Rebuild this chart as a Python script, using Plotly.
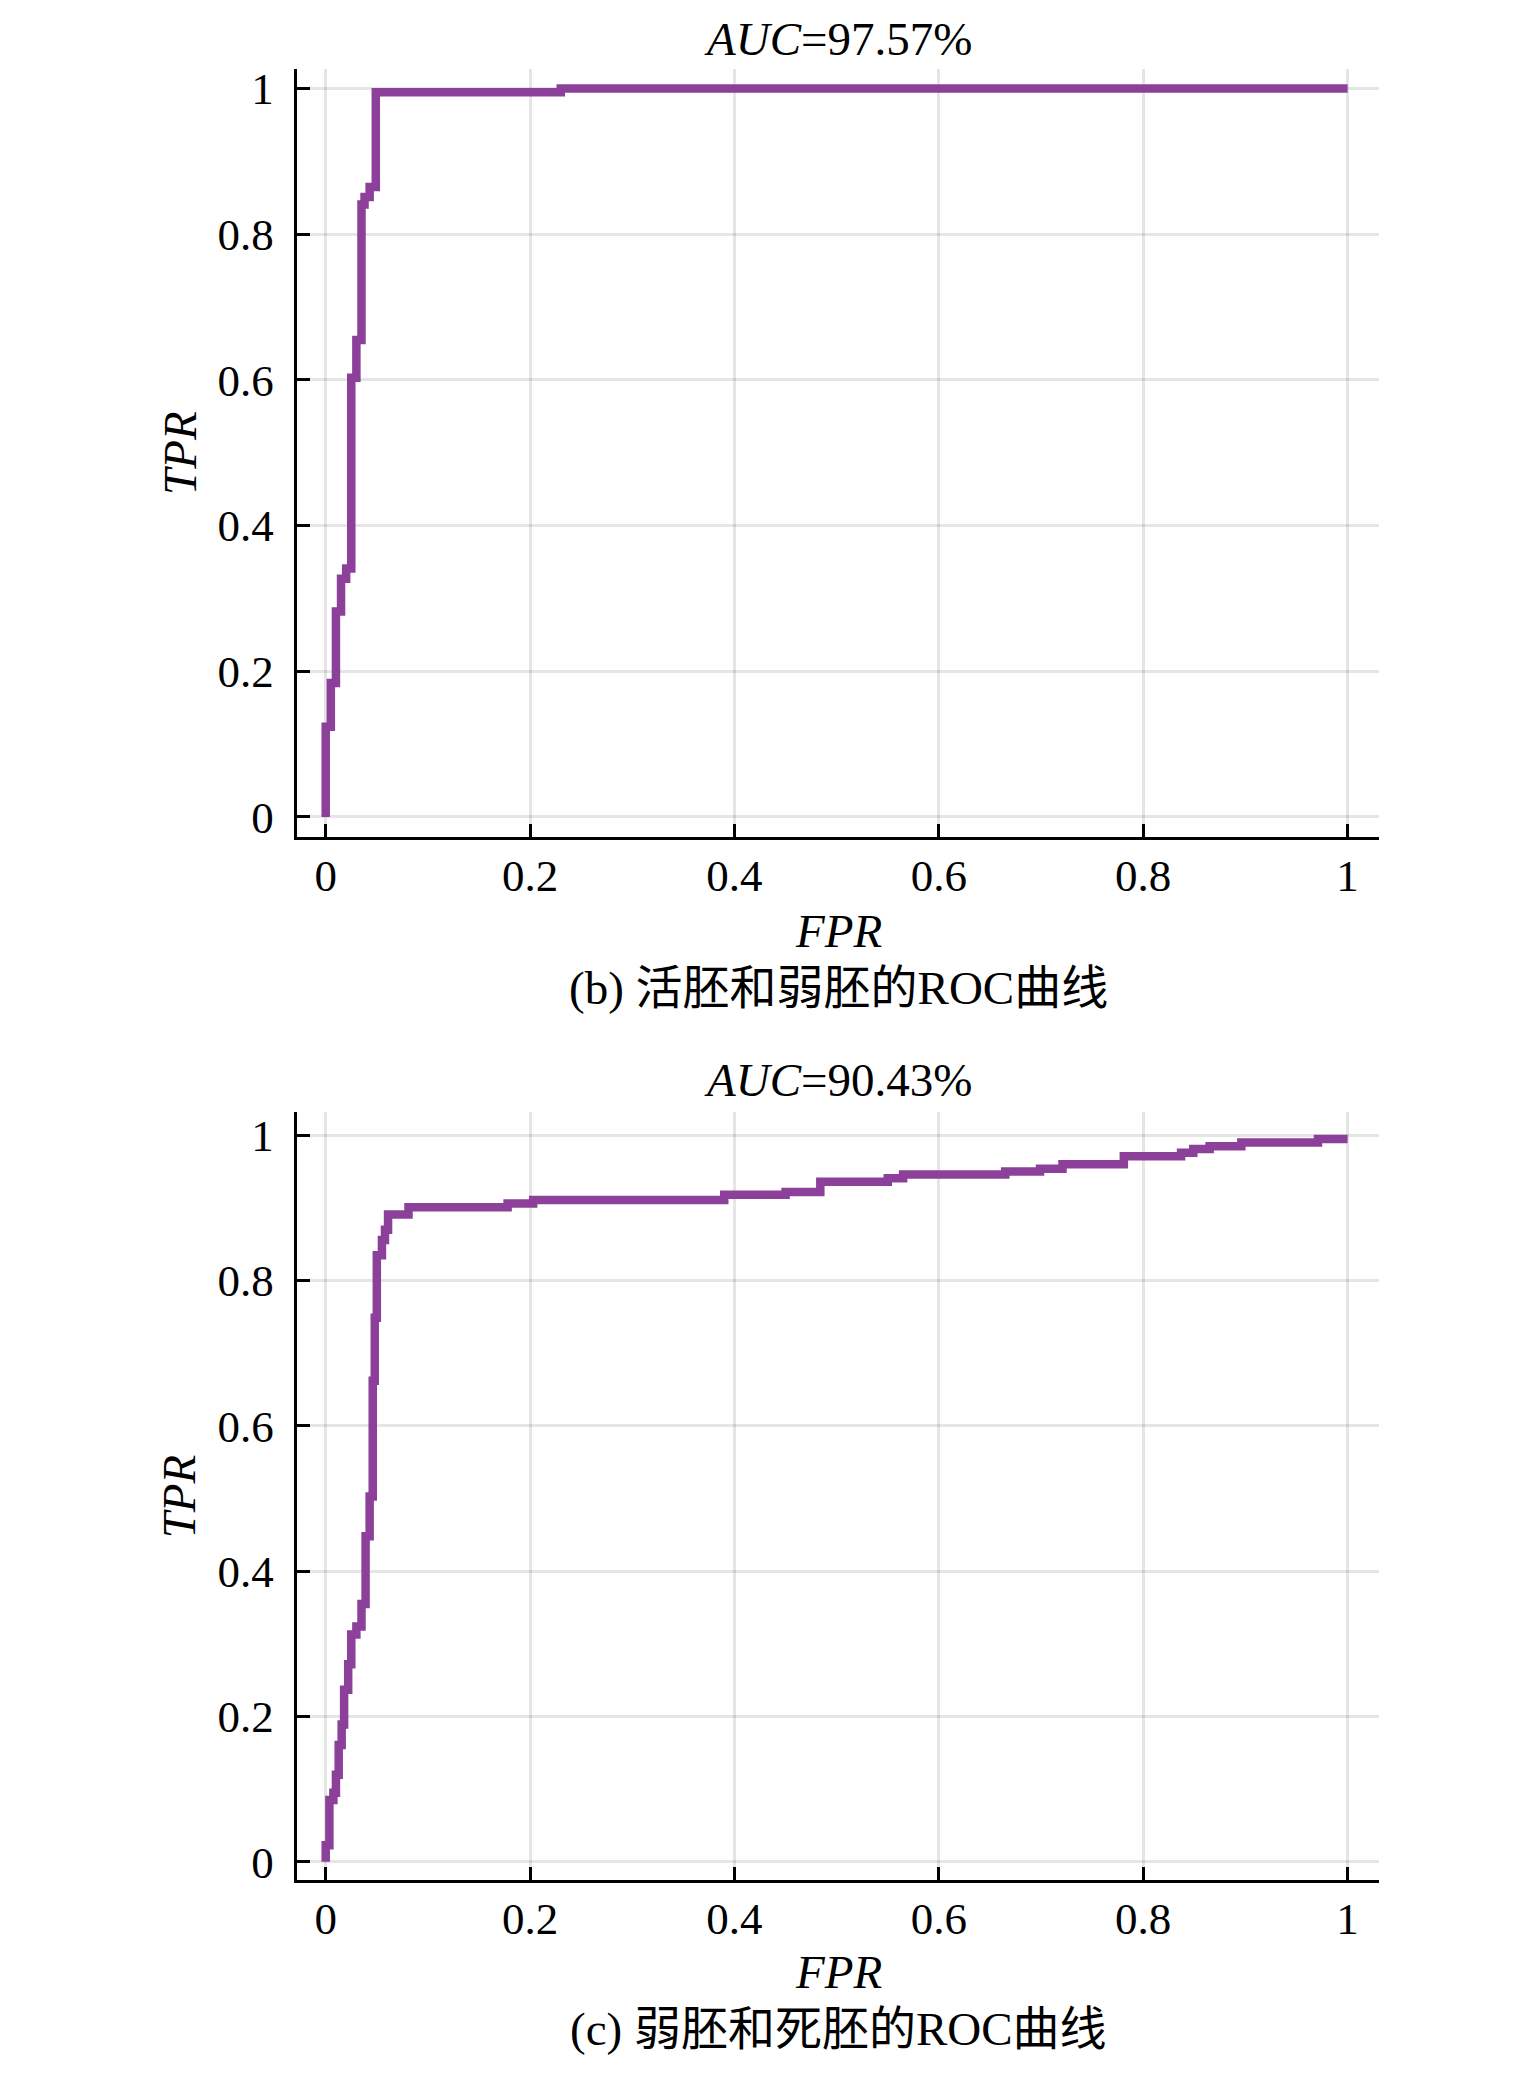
import plotly.graph_objects as go

# ---------------- data ----------------
# (b) live vs weak embryos, AUC = 97.57%
fpr_b = [0.0, 0.0, 0.005, 0.010, 0.015, 0.020, 0.025, 0.030, 0.035, 0.038, 0.043, 0.049, 0.23, 1.0]
tpr_b = [0.0, 0.124, 0.184, 0.282, 0.327, 0.341, 0.603, 0.655, 0.841, 0.851, 0.865, 0.995, 1.0, 1.0]

# (c) weak vs dead embryos, AUC = 90.43%
fpr_c = [0.0, 0.0, 0.0036, 0.0075, 0.010, 0.0127, 0.0156, 0.018, 0.022, 0.025, 0.030, 0.035,
         0.039, 0.043, 0.046, 0.048, 0.050, 0.055, 0.058, 0.061, 0.081, 0.178, 0.203, 0.390,
         0.450, 0.484, 0.550, 0.565, 0.665, 0.699, 0.721, 0.781, 0.837, 0.849, 0.865, 0.896,
         0.971, 1.0]
tpr_c = [0.0, 0.023, 0.085, 0.095, 0.120, 0.161, 0.189, 0.237, 0.272, 0.313, 0.324, 0.355,
         0.448, 0.503, 0.662, 0.749, 0.835, 0.856, 0.870, 0.891, 0.901, 0.906, 0.911, 0.918,
         0.922, 0.936, 0.941, 0.946, 0.950, 0.954, 0.960, 0.971, 0.976, 0.981, 0.985, 0.990,
         0.995, 0.995]

tick_vals = [0, 0.2, 0.4, 0.6, 0.8, 1]
tick_text = ["0", "0.2", "0.4", "0.6", "0.8", "1"]

titles = ["<i>AUC</i>=97.57%", "<i>AUC</i>=90.43%"]
captions = ["(b) 活胚和弱胚的ROC曲线", "(c) 弱胚和死胚的ROC曲线"]
x_label = "<i>FPR</i>"
y_label = "<i>TPR</i>"

# ---------------- styling / layout ----------------
PAGE_W, PAGE_H = 1535, 2073
OFF = 8  # default body margin of the html page
W, H = PAGE_W - 2 * OFF, PAGE_H - 2 * OFF
FONT = "Liberation Serif, Times New Roman, Noto Sans CJK SC, serif"
LINE_COLOR = "#8d409a"
GRID = "rgba(0,0,0,0.10)"


def px_x(p):
    return (p - OFF) / W


def px_y(p):
    return 1 - (p - OFF) / H


fig = go.Figure()
fig.add_trace(go.Scatter(x=fpr_b, y=tpr_b, mode="lines", line=dict(color=LINE_COLOR, width=8.5, shape="hv"),
                         xaxis="x", yaxis="y", showlegend=False))
fig.add_trace(go.Scatter(x=fpr_c, y=tpr_c, mode="lines", line=dict(color=LINE_COLOR, width=8.5, shape="hv"),
                         xaxis="x2", yaxis="y2", showlegend=False))

x_dom = [px_x(296.7), px_x(1379.3)]
top_dom = [px_y(837.3), px_y(65)]
bot_dom = [px_y(1886.5), px_y(1114)]

axis_common = dict(
    showline=True, linecolor="black", linewidth=3, mirror=False,
    ticks="inside", ticklen=13, tickwidth=3, tickcolor="black",
    showgrid=True, gridcolor=GRID, gridwidth=2.5, zeroline=False,
    tickmode="array", tickvals=tick_vals, ticktext=tick_text,
    tickfont=dict(family=FONT, size=45, color="black"),
)

fig.update_layout(
    width=W, height=H,
    margin=dict(l=0, r=0, t=0, b=0),
    paper_bgcolor="white", plot_bgcolor="white",
    showlegend=False,
    xaxis=dict(domain=x_dom, range=[-0.0284, 1.031], anchor="y", ticklabelstandoff=-3, **axis_common),
    yaxis=dict(domain=top_dom, range=[-0.0273, 1.0273], anchor="x", ticklabelstandoff=11, **axis_common),
    xaxis2=dict(domain=x_dom, range=[-0.0284, 1.031], anchor="y2", ticklabelstandoff=-3, **axis_common),
    yaxis2=dict(domain=bot_dom, range=[-0.0256, 1.0319], anchor="x2", ticklabelstandoff=11, **axis_common),
)

cx = px_x(838)
text_font = dict(family=FONT, size=47, color="black")
ann = []
# top panel (title anchored to the top edge so it is not clipped)
ann.append(dict(text=titles[0], x=cx, y=1.0, yanchor="top"))
ann.append(dict(text=x_label, x=cx, y=px_y(932)))
ann.append(dict(text=captions[0], x=cx, y=px_y(989)))
ann.append(dict(text=y_label, x=px_x(179.3), y=px_y(451), textangle=-90))
# bottom panel
ann.append(dict(text=titles[1], x=cx, y=px_y(1081.5)))
ann.append(dict(text=x_label, x=cx, y=px_y(1979)))
ann.append(dict(text=captions[1], x=cx, y=px_y(2036)))
ann.append(dict(text=y_label, x=px_x(179.3), y=px_y(1500), textangle=-90))

for a in ann:
    a.setdefault("yanchor", "middle")
    a.update(xref="paper", yref="paper", showarrow=False, xanchor="center", font=text_font, borderpad=0)
fig.update_layout(annotations=ann)

fig.write_html("out.html")
